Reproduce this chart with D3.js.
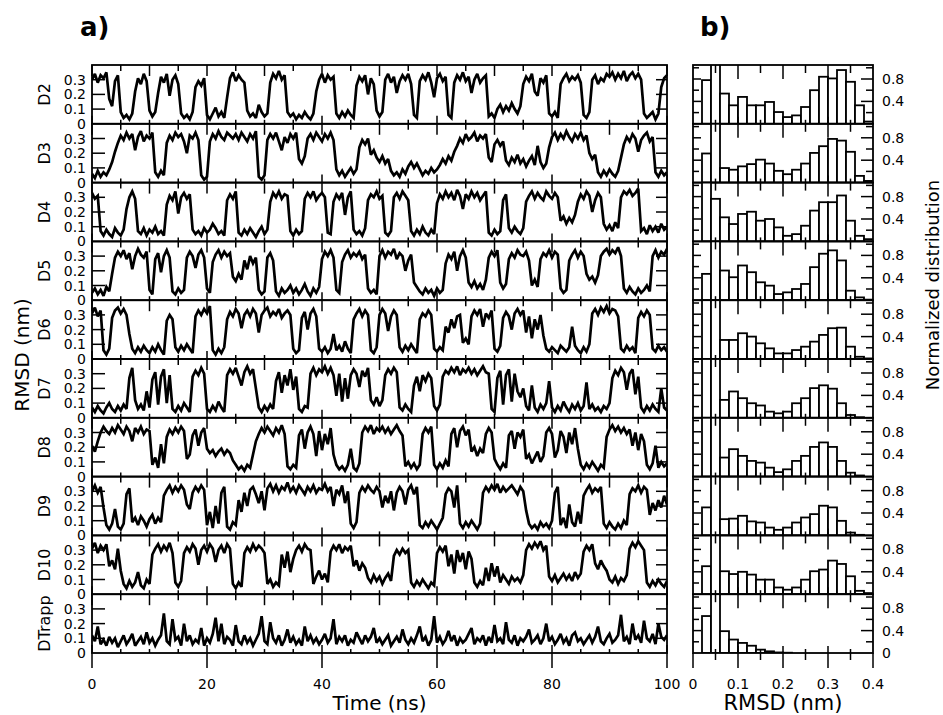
<!DOCTYPE html>
<html><head><meta charset="utf-8">
<script src="https://cdn.jsdelivr.net/npm/d3@7"></script>
<style>body{margin:0;background:#fff} text{font-family:"DejaVu Sans",sans-serif;fill:#000}</style>
</head><body><svg id="c" width="943" height="715"></svg>
<script>
// ---------- data ----------
const rowNames = ["D2","D3","D4","D5","D6","D7","D8","D9","D10","DTrapp"];
const timeStepNs = 0.5;
const rmsdD2 = [.30,.34,.28,.33,.31,.35,.17,.12,.29,.33, .08,.04,.06,.03,.07,.22,.31,.27,.34,.29, .09,.05,.08,.21,.32,.28,.34,.19,.30,.33, .27,.07,.04,.06,.03,.08,.25,.29,.26,.31,
 .06,.03,.07,.11,.05,.08,.04,.18,.31,.35, .29,.33,.30,.28,.09,.05,.07,.04,.13,.08, .05,.07,.28,.34,.31,.36,.30,.33,.08,.05, .07,.03,.06,.04,.08,.05,.03,.07,.22,.30,
 .34,.28,.33,.30,.32,.07,.04,.08,.05,.09, .06,.04,.26,.32,.29,.33,.20,.31,.27,.09, .05,.08,.30,.34,.28,.32,.21,.29,.33,.30, .34,.27,.06,.04,.29,.33,.30,.35,.28,.18,
 .31,.34,.29,.32,.06,.04,.28,.33,.30,.35, .29,.32,.21,.30,.34,.28,.31,.33,.05,.07, .04,.10,.13,.08,.12,.09,.14,.10,.07,.12, .27,.32,.29,.34,.22,.19,.31,.28,.33,.07,
 .05,.08,.04,.27,.31,.34,.29,.32,.30,.33, .28,.06,.04,.08,.30,.33,.27,.31,.29,.34, .32,.35,.30,.34,.31,.36,.29,.33,.35,.31, .34,.30,.07,.04,.06,.08,.03,.07,.25,.31, .33];
const rmsdD3 = [.06,.03,.08,.04,.07,.05,.09,.14,.21,.27, .32,.29,.34,.30,.33,.22,.31,.35,.28,.32, .30,.34,.07,.04,.08,.05,.27,.32,.29,.34, .31,.33,.28,.20,.32,.30,.34,.29,.05,.02,
 .04,.28,.33,.30,.35,.31,.29,.34,.32,.30, .33,.29,.34,.31,.28,.33,.30,.35,.04,.02, .05,.29,.33,.30,.34,.28,.22,.31,.27,.33, .30,.34,.16,.13,.18,.30,.33,.29,.34,.31,
 .28,.33,.30,.34,.29,.09,.05,.08,.04,.07, .10,.06,.09,.24,.29,.26,.30,.19,.22,.17, .14,.18,.13,.16,.08,.05,.07,.04,.09,.06, .11,.14,.10,.13,.09,.05,.08,.06,.10,.07,
 .09,.12,.16,.13,.18,.15,.21,.25,.30,.27, .33,.29,.31,.34,.28,.32,.30,.33,.17,.14, .26,.29,.25,.28,.15,.12,.17,.14,.19,.13, .16,.11,.15,.18,.12,.25,.14,.10,.13,.24,
 .31,.34,.29,.33,.30,.35,.31,.28,.33,.30, .34,.29,.32,.20,.16,.19,.07,.04,.08,.05, .09,.06,.04,.08,.17,.26,.31,.28,.33,.30, .21,.29,.32,.34,.28,.31,.07,.04,.08,.05, .07];
const rmsdD4 = [.33,.29,.31,.07,.04,.08,.05,.03,.09,.06, .04,.08,.22,.30,.34,.29,.07,.05,.09,.04, .08,.06,.10,.05,.07,.04,.25,.31,.28,.34, .19,.30,.33,.29,.32,.08,.05,.07,.04,.09,
 .06,.08,.12,.09,.05,.07,.04,.28,.32,.29, .34,.06,.04,.08,.05,.09,.06,.03,.07,.10, .05,.08,.27,.33,.30,.34,.29,.32,.31,.07, .04,.08,.05,.07,.29,.33,.30,.34,.28,.31,
 .33,.30,.06,.05,.27,.32,.29,.33,.18,.30, .34,.08,.05,.07,.04,.09,.28,.32,.30,.34, .29,.31,.06,.04,.07,.30,.33,.29,.34,.31, .28,.07,.04,.08,.05,.10,.06,.04,.08,.05,
 .26,.32,.29,.34,.30,.33,.28,.35,.31,.22, .32,.29,.34,.30,.33,.28,.31,.34,.06,.04, .08,.05,.07,.28,.32,.09,.06,.10,.07,.05, .09,.27,.31,.34,.29,.33,.30,.28,.34,.31,
 .29,.33,.30,.14,.17,.12,.16,.13,.18,.27, .32,.29,.34,.31,.20,.28,.33,.30,.12,.08, .11,.07,.13,.09,.30,.34,.32,.35,.31,.33, .36,.07,.09,.05,.11,.07,.10,.06,.12,.08, .10];
const rmsdD5 = [.05,.08,.04,.07,.03,.09,.06,.18,.29,.33, .30,.34,.28,.32,.21,.30,.35,.31,.29,.33, .07,.04,.28,.32,.19,.30,.34,.29,.06,.04, .08,.05,.07,.29,.33,.30,.22,.31,.34,.29,
 .08,.05,.26,.31,.34,.29,.33,.30,.32,.16, .13,.18,.14,.27,.21,.30,.25,.29,.07,.04, .06,.29,.32,.27,.06,.03,.08,.05,.07,.10, .05,.08,.04,.07,.11,.06,.03,.08,.05,.09,
 .28,.33,.30,.34,.29,.07,.05,.26,.31,.34, .29,.32,.30,.33,.28,.31,.08,.05,.07,.04, .30,.34,.29,.33,.31,.35,.28,.32,.30,.20, .27,.31,.12,.09,.06,.04,.08,.05,.07,.03,
 .08,.05,.07,.25,.31,.28,.33,.20,.30,.34, .29,.12,.09,.13,.08,.11,.07,.14,.29,.33, .30,.34,.12,.08,.11,.28,.32,.29,.34,.31, .30,.33,.27,.10,.14,.09,.28,.32,.30,.34,
 .29,.33,.31,.08,.05,.07,.27,.31,.34,.29, .33,.30,.18,.14,.16,.12,.17,.30,.33,.35, .31,.34,.32,.36,.30,.08,.05,.09,.06,.04, .08,.05,.07,.10,.06,.30,.34,.29,.33,.31, .35];
const rmsdD6 = [.31,.35,.29,.33,.06,.03,.07,.28,.33,.35, .31,.34,.30,.17,.07,.04,.08,.05,.09,.06, .04,.08,.05,.10,.06,.03,.26,.30,.27,.08, .05,.09,.06,.10,.07,.04,.29,.33,.30,.34,
 .31,.36,.06,.03,.07,.04,.08,.27,.32,.29, .34,.31,.21,.30,.33,.29,.34,.31,.18,.30, .33,.35,.29,.32,.30,.34,.28,.31,.33,.30, .07,.04,.06,.28,.32,.20,.31,.34,.29,.07,
 .05,.08,.04,.07,.17,.06,.09,.05,.12,.07, .04,.27,.31,.34,.29,.33,.30,.06,.04,.08, .30,.34,.31,.19,.29,.33,.30,.08,.05,.09, .06,.10,.07,.04,.27,.31,.29,.33,.30,.07,
 .05,.08,.06,.22,.18,.27,.21,.29,.30,.11, .14,.10,.29,.33,.30,.34,.22,.31,.28,.33, .07,.05,.09,.28,.32,.29,.20,.31,.34,.30, .33,.18,.29,.14,.27,.20,.30,.16,.07,.05,
 .08,.06,.04,.09,.07,.05,.08,.22,.09,.06, .04,.08,.05,.10,.31,.34,.30,.35,.32,.36, .31,.34,.33,.29,.07,.05,.09,.06,.08,.04, .28,.32,.29,.33,.30,.07,.05,.09,.06,.08, .05];
const rmsdD7 = [.07,.04,.08,.05,.03,.07,.10,.06,.04,.08, .05,.09,.06,.27,.34,.12,.06,.09,.05,.18, .07,.26,.31,.09,.28,.33,.10,.29,.06,.04, .08,.05,.10,.07,.04,.28,.32,.29,.34,.30,
 .06,.04,.08,.05,.11,.07,.04,.29,.33,.30, .34,.28,.22,.31,.35,.30,.33,.20,.07,.04, .08,.05,.09,.06,.25,.31,.17,.29,.22,.33, .19,.28,.06,.04,.08,.07,.30,.34,.29,.33,
 .31,.35,.30,.34,.29,.15,.30,.11,.27,.13, .29,.33,.30,.21,.32,.28,.34,.12,.09,.14, .08,.12,.29,.33,.30,.34,.31,.07,.05,.09, .06,.04,.22,.28,.18,.29,.25,.30,.27,.08,
 .05,.09,.28,.32,.30,.34,.31,.35,.29,.33, .31,.34,.30,.33,.29,.32,.35,.31,.30,.06, .04,.27,.32,.09,.29,.33,.11,.30,.18,.14, .20,.08,.05,.22,.07,.04,.09,.06,.10,.25,
 .07,.04,.08,.05,.11,.07,.04,.09,.06,.10, .05,.08,.24,.06,.09,.05,.07,.04,.08,.06, .10,.27,.32,.29,.34,.31,.19,.30,.33,.16, .28,.07,.04,.08,.05,.09,.06,.04,.20,.07, .05];
const rmsdD8 = [.21,.17,.24,.30,.34,.31,.29,.33,.30,.35, .32,.29,.34,.31,.24,.33,.30,.34,.29,.32, .31,.08,.13,.06,.22,.09,.27,.32,.29,.33, .30,.34,.31,.12,.15,.28,.32,.21,.30,.33,
 .19,.16,.18,.14,.17,.19,.15,.18,.16,.11, .08,.05,.07,.04,.08,.06,.15,.24,.29,.33, .30,.34,.31,.28,.33,.30,.35,.29,.07,.05, .08,.06,.28,.32,.19,.30,.34,.29,.14,.31,
 .18,.29,.22,.33,.15,.08,.05,.07,.04,.08, .19,.06,.04,.09,.30,.34,.31,.35,.29,.33, .31,.34,.30,.33,.29,.32,.35,.31,.28,.07, .10,.06,.09,.05,.08,.29,.33,.30,.34,.08,
 .05,.09,.06,.11,.07,.29,.33,.20,.31,.34, .28,.32,.17,.20,.14,.19,.16,.29,.33,.30, .12,.08,.05,.09,.06,.28,.31,.19,.30,.27, .32,.12,.15,.09,.13,.17,.10,.14,.30,.33,
 .29,.13,.18,.31,.27,.16,.30,.22,.33,.19, .08,.05,.09,.06,.10,.07,.04,.08,.06,.27, .32,.35,.31,.34,.30,.33,.29,.32,.21,.30, .18,.29,.24,.08,.05,.09,.21,.06,.10,.07, .09];
const rmsdD9 = [.30,.34,.29,.33,.19,.07,.04,.08,.18,.06, .04,.08,.28,.32,.09,.12,.07,.13,.10,.06, .11,.14,.08,.12,.09,.27,.31,.34,.29,.33, .30,.34,.31,.21,.18,.29,.33,.30,.34,.31,
 .07,.16,.05,.20,.08,.29,.33,.06,.04,.09, .07,.24,.16,.29,.20,.31,.33,.28,.22,.30, .17,.32,.35,.30,.34,.29,.33,.31,.36,.30, .33,.29,.34,.31,.28,.33,.30,.34,.29,.32,
 .31,.35,.30,.33,.20,.31,.28,.34,.22,.30, .08,.05,.09,.29,.33,.30,.34,.31,.29,.33, .30,.19,.27,.22,.30,.17,.29,.33,.30,.21, .31,.34,.28,.33,.07,.05,.09,.06,.10,.07,
 .04,.08,.12,.28,.32,.30,.19,.34,.08,.05, .09,.06,.10,.07,.04,.08,.29,.33,.30,.34, .31,.35,.29,.33,.30,.32,.34,.31,.28,.33, .30,.17,.08,.05,.07,.04,.09,.06,.08,.05,
 .10,.29,.33,.07,.12,.05,.21,.09,.06,.16, .08,.27,.31,.34,.29,.32,.30,.33,.08,.05, .09,.06,.04,.08,.05,.10,.07,.28,.32,.30, .34,.29,.33,.31,.14,.22,.17,.24,.19,.27, .21];
const rmsdD10 = [.31,.35,.28,.33,.30,.34,.19,.23,.17,.31, .16,.07,.04,.09,.05,.08,.15,.06,.04,.10, .07,.27,.31,.34,.29,.33,.30,.35,.28,.08, .05,.09,.28,.32,.29,.34,.31,.20,.30,.33,
 .29,.34,.31,.22,.30,.33,.28,.34,.31,.07, .04,.08,.05,.28,.32,.29,.34,.30,.33,.31, .28,.07,.10,.05,.08,.06,.27,.18,.29,.15, .24,.30,.33,.29,.34,.31,.30,.07,.12,.16,
 .10,.14,.08,.29,.33,.30,.34,.28,.32,.30, .33,.19,.23,.16,.21,.18,.11,.08,.13,.09, .12,.07,.11,.14,.09,.26,.30,.27,.31,.28, .30,.08,.05,.09,.06,.10,.07,.04,.08,.06,
 .28,.32,.29,.33,.19,.27,.14,.30,.22,.28, .17,.29,.24,.08,.05,.09,.06,.18,.09,.21, .12,.19,.08,.13,.10,.07,.12,.09,.11,.08, .13,.30,.34,.31,.35,.32,.36,.30,.33,.12,
 .09,.13,.08,.11,.14,.10,.13,.09,.15,.11, .14,.29,.33,.30,.34,.21,.17,.23,.19,.16, .10,.08,.12,.07,.11,.09,.13,.31,.35,.32, .36,.33,.30,.08,.05,.09,.06,.10,.07,.05, .09];
const rmsdDTrapp = [.12,.08,.18,.06,.09,.05,.11,.07,.10,.04, .08,.12,.06,.09,.13,.05,.08,.11,.06,.14, .07,.10,.05,.09,.12,.27,.08,.06,.23,.09, .11,.05,.20,.08,.12,.06,.09,.07,.17,.05,
 .10,.07,.13,.24,.08,.20,.06,.11,.09,.05, .19,.08,.06,.12,.07,.10,.05,.09,.13,.25, .08,.06,.21,.10,.07,.12,.05,.09,.16,.07, .11,.06,.09,.05,.18,.08,.12,.07,.10,.06,
 .09,.13,.07,.10,.23,.06,.11,.08,.12,.05, .09,.07,.14,.10,.06,.12,.08,.11,.17,.07, .10,.06,.09,.12,.05,.08,.11,.07,.16,.09, .06,.10,.07,.12,.18,.08,.11,.05,.09,.25,
 .07,.11,.06,.09,.15,.08,.12,.05,.10,.07, .09,.13,.17,.06,.10,.08,.12,.05,.11,.07, .19,.08,.10,.06,.21,.09,.07,.12,.05,.10, .08,.11,.16,.07,.09,.12,.06,.10,.20,.08,
 .11,.06,.09,.13,.07,.10,.05,.12,.14,.08, .10,.06,.09,.12,.07,.11,.18,.08,.06,.10, .13,.07,.09,.12,.26,.08,.11,.06,.20,.09, .12,.07,.22,.10,.08,.13,.06,.20,.11,.09, .12];

// histogram: bins of 0.02 nm, bin start values
const histBinStart = [0,.02,.04,.06,.08,.10,.12,.14,.16,.18,.20,.22,.24,.26,.28,.30,.32,.34,.36,.38];
const histBinWidth = 0.02;
// 1.5 marks a bar that runs off the top of its row
const histD2 = [0,.78,1.5,.54,.33,.48,.33,.33,.39,.21,.12,.15,.30,.60,.84,.81,.96,.75,.33,.04];
const histD3 = [0,.52,1.5,.26,.23,.29,.33,.41,.34,.21,.15,.23,.34,.53,.65,.78,.75,.55,.12,.03];
const histD4 = [0,1.5,.76,.43,.31,.49,.53,.37,.40,.25,.10,.13,.28,.55,.70,.70,.82,.37,.10,.04];
const histD5 = [0,.47,1.5,.53,.41,.62,.50,.32,.26,.11,.14,.20,.29,.59,.83,.89,.71,.17,.05,.01];
const histD6 = [0,1.5,1.5,.34,.34,.46,.40,.28,.19,.10,.10,.16,.22,.31,.43,.55,.56,.22,.04,.01];
const histD7 = [0,1.5,1.5,.32,.47,.35,.26,.22,.11,.08,.11,.26,.35,.53,.58,.52,.26,.05,.01,0];
const histD8 = [0,1.5,1.5,.34,.49,.37,.28,.25,.16,.08,.13,.28,.37,.53,.61,.53,.28,.07,.02,0];
const histD9 = [0,.50,1.5,.29,.30,.35,.25,.23,.14,.10,.14,.23,.32,.38,.53,.50,.26,.05,.01,0];
const histD10 = [0,.50,1.5,.41,.36,.40,.35,.26,.26,.12,.08,.12,.26,.41,.44,.60,.54,.32,.06,.02];
const histDTrapp = [0,.66,1.5,.39,.24,.18,.13,.06,.03,.01,.005,0,0,0,0,0,0,0,0,0];

const timeTicks = [0,20,40,60,80,100];
const rmsdTicks = [0,0.1,0.2,0.3];
const histXTicks = [0,0.1,0.2,0.3,0.4];
const distLabelTicks = [0.4,0.8];

const series = [rmsdD2,rmsdD3,rmsdD4,rmsdD5,rmsdD6,rmsdD7,rmsdD8,rmsdD9,rmsdD10,rmsdDTrapp];
const hists = [histD2,histD3,histD4,histD5,histD6,histD7,histD8,histD9,histD10,histDTrapp];

// ---------- layout ----------
const svg = d3.select("#c");
const top0 = 65, bot0 = 653, nRows = rowNames.length;
const rowH = (bot0 - top0) / nRows;
const xA = d3.scaleLinear().domain([0,100]).range([92,667]);
const xB = d3.scaleLinear().domain([0,0.4]).range([693,873]);
const defs = svg.append("defs");
const ink = "#000";

function line(g, x1,y1,x2,y2,w){ g.append("line").attr("x1",x1).attr("y1",y1).attr("x2",x2).attr("y2",y2).attr("stroke",ink).attr("stroke-width",w||1.5); }

rowNames.forEach((name,i)=>{
  const top = top0 + i*rowH, bot = top + rowH;
  const yA = d3.scaleLinear().domain([0,0.4]).range([bot,top]);
  const yB = d3.scaleLinear().domain([0,1.05]).range([bot,top]);
  defs.append("clipPath").attr("id","ca"+i).append("rect").attr("x",xA(0)).attr("y",top).attr("width",xA(100)-xA(0)).attr("height",rowH);
  defs.append("clipPath").attr("id","cb"+i).append("rect").attr("x",xB(0)).attr("y",top).attr("width",xB(0.4)-xB(0)).attr("height",rowH);

  // trace
  const gl = svg.append("g").attr("clip-path","url(#ca"+i+")");
  gl.append("path").datum(series[i])
    .attr("d", d3.line().x((d,k)=>xA(k*timeStepNs)).y(d=>yA(d)))
    .attr("fill","none").attr("stroke",ink).attr("stroke-width",2.7).attr("stroke-linejoin","miter").attr("stroke-miterlimit",2.5);

  // histogram
  const gh = svg.append("g").attr("clip-path","url(#cb"+i+")");
  gh.selectAll("rect").data(hists[i].map((v,k)=>({v,b:histBinStart[k]})).filter(d=>d.v>0))
    .join("rect")
    .attr("x",d=>xB(d.b)).attr("width",d=>xB(d.b+histBinWidth)-xB(d.b))
    .attr("y",d=>yB(d.v)).attr("height",d=>bot-yB(d.v))
    .attr("fill","#fff").attr("stroke",ink).attr("stroke-width",1.8);

  const g = svg.append("g");
  // panel a ticks
  d3.range(0,101,5).forEach(t=>{
    const x = xA(t);
    line(g,x,top,x,top+(t%10===0?11:6));
    line(g,x,bot,x,bot-(t%20===0?8:4));
  });
  [0.1,0.2,0.3].forEach(v=>{
    line(g,xA(0),yA(v),xA(0)+13,yA(v));
    line(g,xA(100)-11,yA(v),xA(100),yA(v));
  });
  // panel b ticks
  d3.range(1,8).forEach(k=>{
    const v = k*0.05, x = xB(v), major = k%2===0;
    line(g,x,top,x,top+(major?14:8));
    line(g,x,bot,x,bot-(major?7:4));
  });
  [0.2,0.4,0.6,0.8,1.0].forEach(v=>{
    const major = (v===0.4||v===0.8);
    line(g,xB(0),yB(v),xB(0)+(major?8:6),yB(v));
    line(g,xB(0.4)-(major?12:7),yB(v),xB(0.4),yB(v));
  });
  // frames
  g.append("rect").attr("x",xA(0)).attr("y",top).attr("width",xA(100)-xA(0)).attr("height",rowH)
    .attr("fill","none").attr("stroke",ink).attr("stroke-width",1.8);
  g.append("rect").attr("x",xB(0)).attr("y",top).attr("width",xB(0.4)-xB(0)).attr("height",rowH)
    .attr("fill","none").attr("stroke",ink).attr("stroke-width",1.8);

  // labels
  rmsdTicks.forEach(v=>{
    g.append("text").attr("x",86).attr("y",yA(v)).attr("dy","0.36em").attr("text-anchor","end")
      .attr("font-size",14).text(String(v));
  });
  (i===nRows-1 ? [0].concat(distLabelTicks) : distLabelTicks).forEach(v=>{
    g.append("text").attr("x",882).attr("y",yB(v)).attr("dy","0.36em").attr("text-anchor","start")
      .attr("font-size",14).text(String(v));
  });
  g.append("text").attr("transform",`translate(50,${top+rowH/2}) rotate(-90)`)
    .attr("text-anchor","middle").attr("font-size",16).text(name);
});

// bottom axes
const ga = svg.append("g");
timeTicks.forEach(t=>{
  line(ga,xA(t),bot0,xA(t),bot0+15);
  ga.append("text").attr("x",xA(t)).attr("y",689).attr("text-anchor","middle").attr("font-size",14).text(String(t));
});
d3.range(0,9).forEach(k=>{
  const v=k*0.05; line(ga,xB(v),bot0,xB(v),bot0+(k%2===0?15:7));
});
histXTicks.forEach(v=>{
  ga.append("text").attr("x",xB(v)).attr("y",689).attr("text-anchor","middle").attr("font-size",14).text(String(v));
});

// titles
svg.append("text").attr("x",xA(50)).attr("y",710).attr("text-anchor","middle").attr("font-size",20).text("Time (ns)");
svg.append("text").attr("x",xB(0.2)).attr("y",710).attr("text-anchor","middle").attr("font-size",21).text("RMSD (nm)");
svg.append("text").attr("transform","translate(29,355) rotate(-90)").attr("text-anchor","middle").attr("font-size",20).text("RMSD (nm)");
svg.append("text").attr("transform","translate(939,285) rotate(-90)").attr("text-anchor","middle").attr("font-size",18).text("Normalized distribution");
svg.append("text").attr("x",80).attr("y",36).attr("font-size",26).attr("font-weight","bold").text("a)");
svg.append("text").attr("x",700).attr("y",36).attr("font-size",26).attr("font-weight","bold").text("b)");
</script></body></html>
